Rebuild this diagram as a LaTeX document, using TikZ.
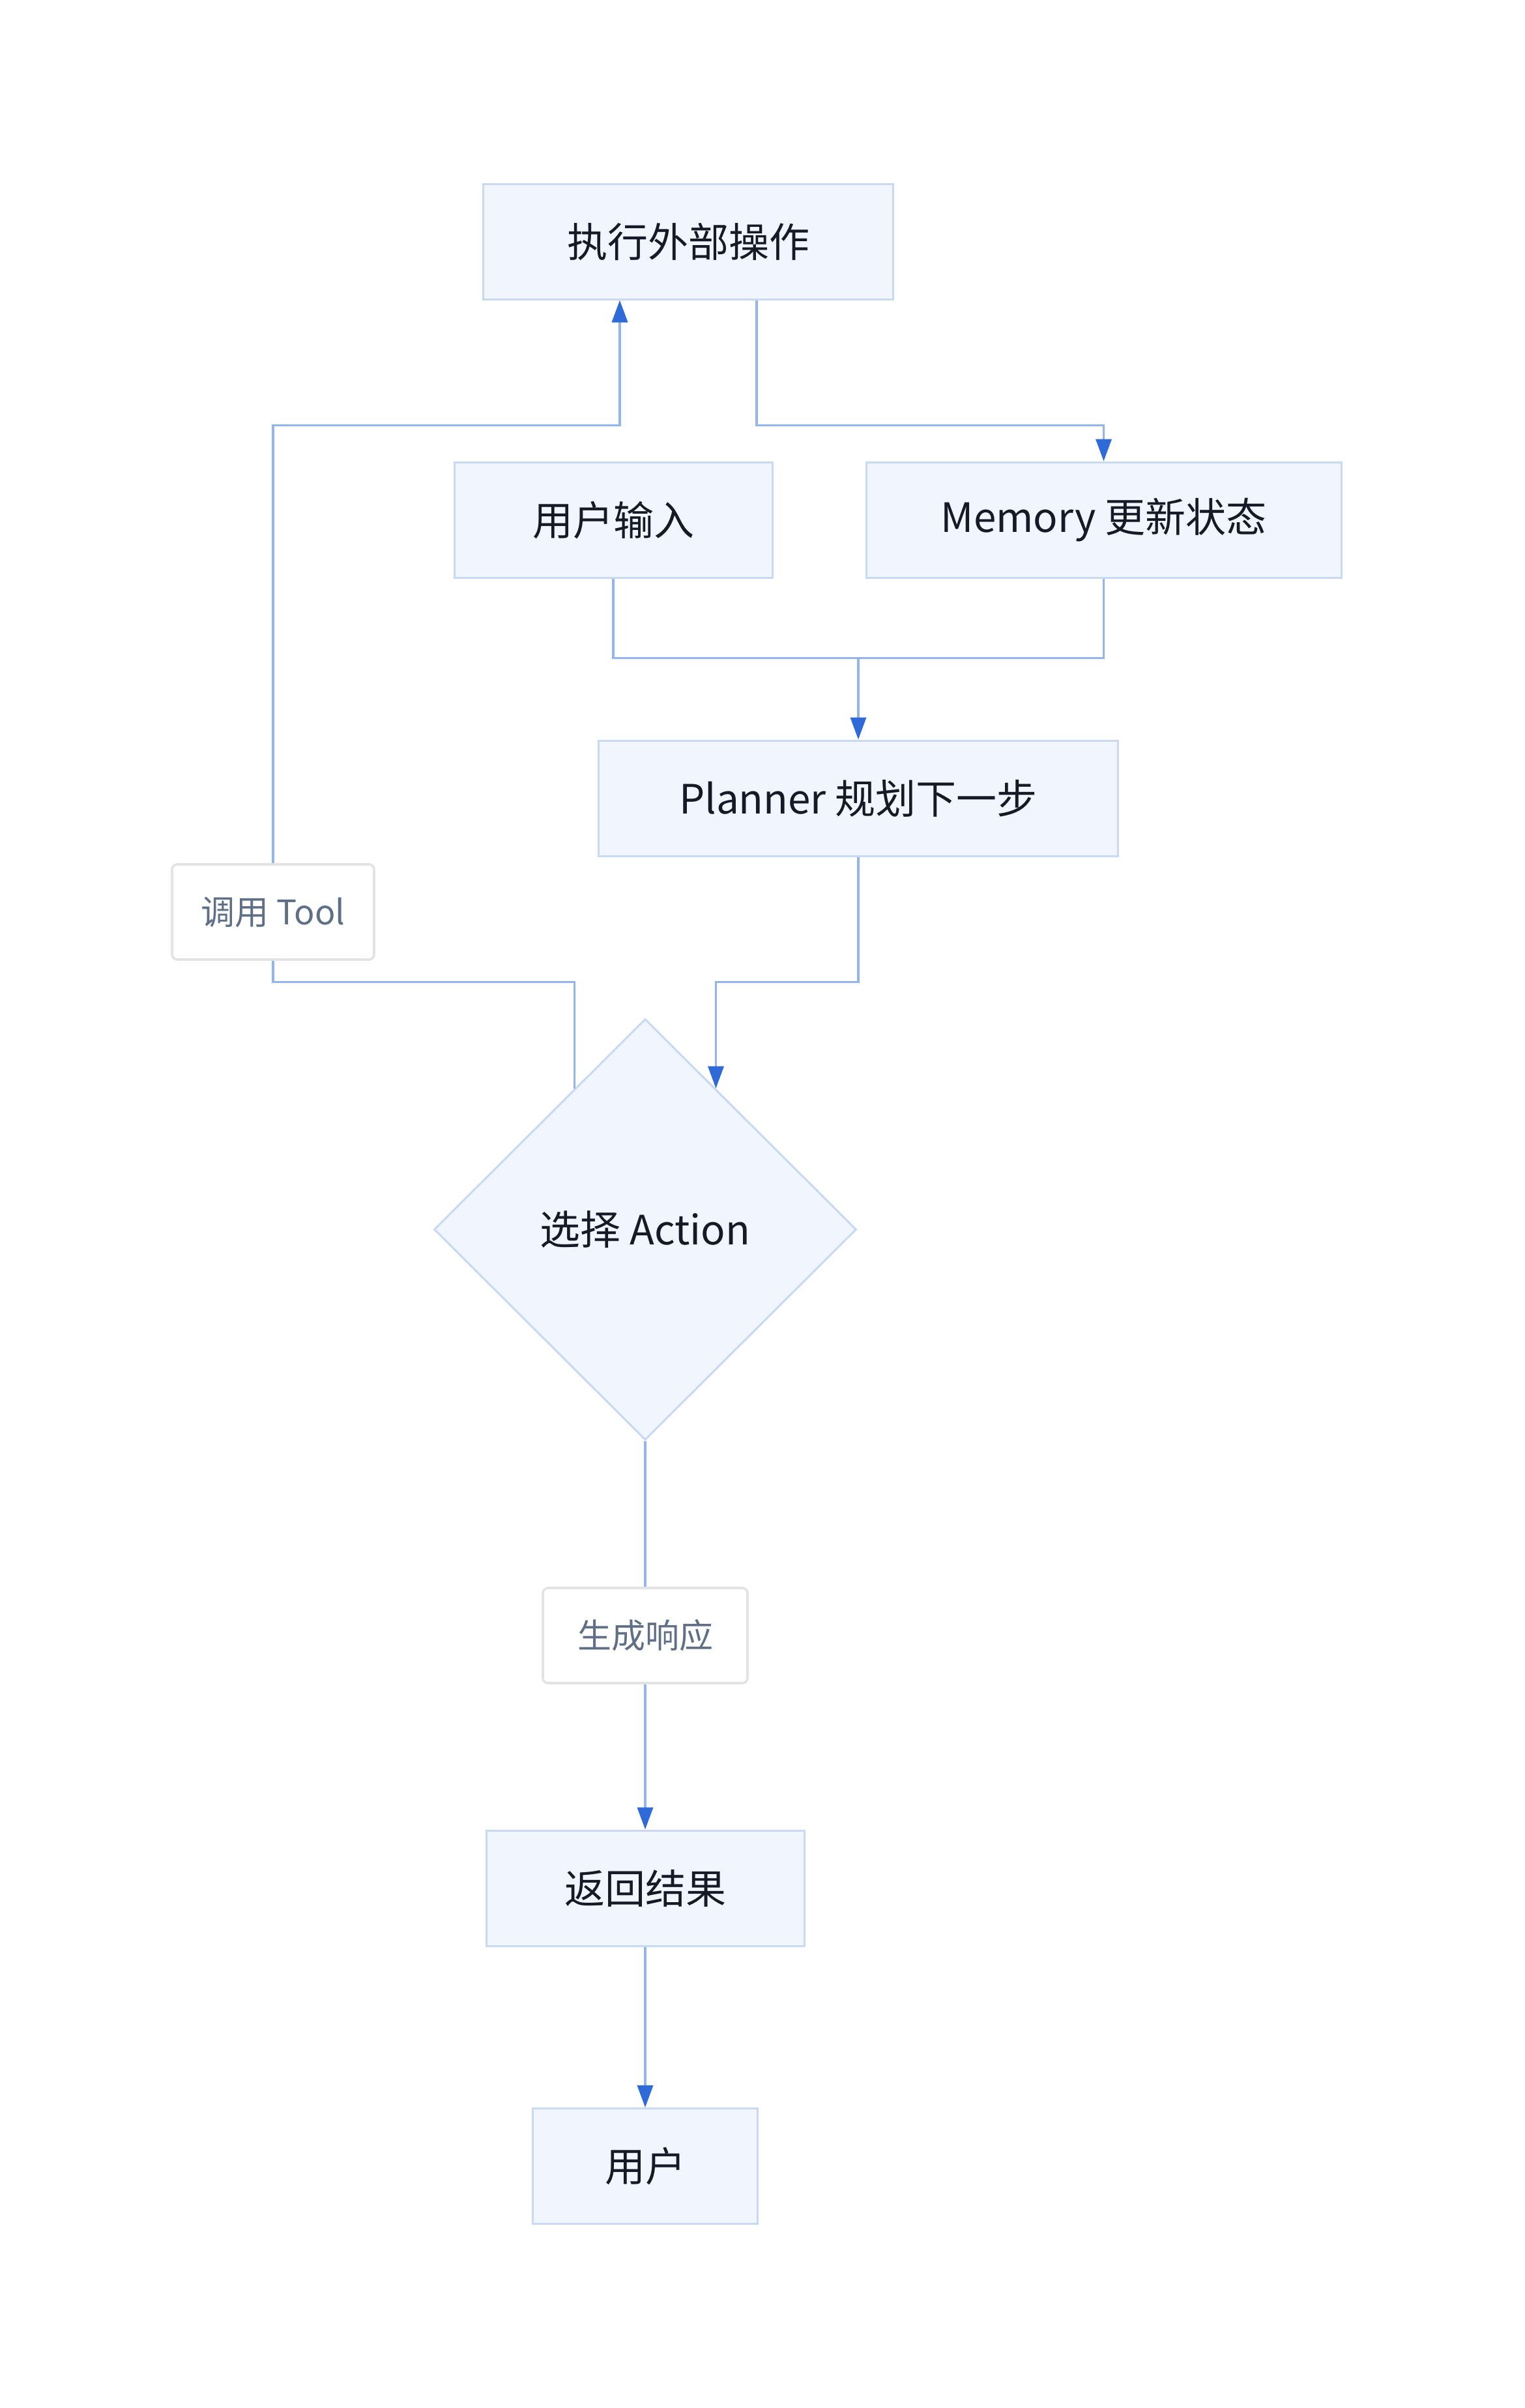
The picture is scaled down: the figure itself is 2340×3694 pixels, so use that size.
\documentclass[tikz,border=0pt]{standalone}
\usepackage{fontspec}
\setmainfont{Noto Sans CJK SC}
\usetikzlibrary{arrows.meta,calc,shapes.geometric}
\definecolor{boxfill}{HTML}{F0F5FE}
\definecolor{boxdraw}{HTML}{C8D9F3}
\definecolor{linec}{HTML}{93B5EE}
\definecolor{arrowc}{HTML}{2F6AD9}
\definecolor{textc}{HTML}{141A26}
\definecolor{labtext}{HTML}{5F6F86}
\definecolor{labdraw}{HTML}{E3E3E3}
\tikzset{
  procbox/.style={draw=boxdraw, fill=boxfill, line width=0.75pt, inner sep=0pt,
    minimum height=44.25pt, text=textc, font=\fontsize{15.5pt}{18pt}\selectfont},
  decbox/.style={diamond, aspect=1, draw=boxdraw, fill=boxfill, line width=0.75pt, inner sep=0pt,
    minimum width=162pt, minimum height=161.5pt, text=textc, font=\fontsize{15.5pt}{18pt}\selectfont},
  labbox/.style={draw=labdraw, fill=white, line width=0.9pt, rounded corners=2pt, inner sep=0pt,
    minimum height=36.5pt, text=labtext, font=\fontsize{13pt}{16pt}\selectfont},
  edge/.style={draw=linec, line width=0.9pt},
  arr/.style={edge, -{Triangle[length=8.5pt,width=6pt,color=arrowc]}}
}
\begin{document}
\begin{tikzpicture}[x=0.25pt,y=-0.25pt]
\useasboundingbox (0,0) rectangle (2340,3694);
\node[procbox, minimum width=157.25pt] (exec) at (1056,370.5) {执行外部操作};
\node[procbox, minimum width=122pt] (input) at (941,797.5) {用户输入};
\node[procbox, minimum width=182.25pt] (mem) at (1693.5,797.5) {Memory 更新状态};
\node[procbox, minimum width=199.25pt] (plan) at (1317,1224.5) {Planner 规划下一步};
\node[decbox] (dia) at (990,1886) {选择 Action};
\node[labbox, minimum width=77.5pt] (tool) at (419,1399) {调用 Tool};
\node[labbox, minimum width=78.5pt] (resp) at (990,2509) {生成响应};
\node[procbox, minimum width=122pt] (ret) at (990,2896.5) {返回结果};
\node[procbox, minimum width=86.25pt] (user) at (990,3323) {用户};

\coordinate (j1) at ($(plan.north)+(0,-125)$);
\coordinate (j2) at ($(plan.south)+(0,192)$);
\coordinate (dA) at ($(dia.north)!0.3333!(dia.east)$);
\coordinate (dB) at ($(dia.north)!0.3333!(dia.west)$);
\coordinate (eR) at ($(exec.south)+(105,0)$);
\coordinate (eL) at ($(exec.south)+(-105,0)$);
\coordinate (eJ) at ($(exec.south)+(0,192)$);

% edges
\draw[arr] (eR) -- (eR |- eJ) -| (mem.north);
\draw[edge] (mem.south) |- (j1);
\draw[arr] (input.south) |- (j1) -- (plan.north);
\draw[arr] (plan.south) -- (j2) -| (dA);
\draw[edge] (dB) -- (dB |- j2) -| (tool.south);
\draw[arr] (tool.north) |- (eL |- eJ) -- (eL);
\draw[edge] (dia.south) -- (resp.north);
\draw[arr] (resp.south) -- (ret.north);
\draw[arr] (ret.south) -- (user.north);
\end{tikzpicture}
\end{document}
